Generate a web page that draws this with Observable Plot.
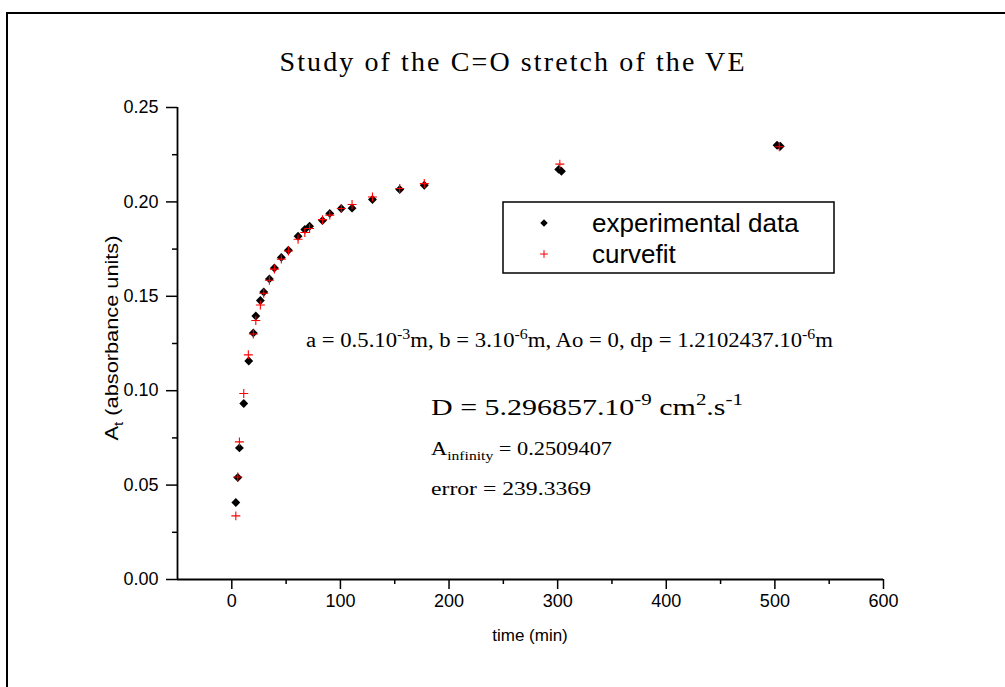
<!DOCTYPE html>
<html><head><meta charset="utf-8">
<script src="https://cdn.jsdelivr.net/npm/d3@7"></script>
<script src="https://cdn.jsdelivr.net/npm/@observablehq/plot@0.6"></script>
<style>
html,body{margin:0;padding:0;background:#fff;overflow:hidden;}
#wrap{position:relative;width:1005px;height:687px;overflow:hidden;}
#frame{position:absolute;left:6px;top:12px;width:1100px;height:800px;border:2px solid #000;box-sizing:border-box;}
#chart{position:absolute;left:0;top:0;}
</style></head><body>
<div id="wrap"><div id="frame"></div><div id="chart"></div></div>
<script>
// experimental data (time in min, absorbance)
const timeExp = [3.7, 5.5, 7.0, 11.0, 15.6, 19.8, 22.1, 26.3, 29.4, 34.6, 39.2, 45.6, 52.1, 61.0, 67.2, 71.6, 83.5, 90.2, 100.8, 110.7, 129.5, 154.6, 177.2, 301.0, 303.5, 502.0, 505.0];
const absExp  = [0.0408, 0.0540, 0.0697, 0.0932, 0.1157, 0.1306, 0.1396, 0.1478, 0.1523, 0.1592, 0.1650, 0.1706, 0.1744, 0.1818, 0.1854, 0.1871, 0.1901, 0.1939, 0.1965, 0.1967, 0.2013, 0.2066, 0.2088, 0.2172, 0.2162, 0.2300, 0.2295];
// curve fit values
const timeFit = [3.7, 5.5, 7.0, 11.0, 15.2, 19.8, 22.1, 26.3, 29.4, 34.6, 39.2, 45.6, 52.1, 61.0, 67.2, 71.6, 83.5, 90.2, 100.8, 110.7, 129.5, 154.6, 177.2, 302.0, 504.0];
const absFit  = [0.0337, 0.0543, 0.0729, 0.0985, 0.1190, 0.1300, 0.1372, 0.1454, 0.1516, 0.1585, 0.1644, 0.1697, 0.1740, 0.1802, 0.1838, 0.1859, 0.1906, 0.1930, 0.1965, 0.1986, 0.2026, 0.2071, 0.2097, 0.2200, 0.2292];

const xTicks = [0, 100, 200, 300, 400, 500, 600];
const xMinor = [50, 150, 250, 350, 450, 550];
const yTicks = [0, 0.05, 0.10, 0.15, 0.20, 0.25];
const yMinor = [0.025, 0.075, 0.125, 0.175, 0.225];

const seriesNames = ["experimental data", "curvefit"];

const W = 1005, H = 687;
const exp = timeExp.map((t, i) => ({t, a: absExp[i]}));
const fit = timeFit.map((t, i) => ({t, a: absFit[i]}));
const sans = "'Liberation Sans', Arial, sans-serif";
const serif = "'Liberation Serif', 'Times New Roman', serif";

const plot = Plot.plot({
  width: W, height: H,
  marginLeft: 177, marginRight: 122, marginTop: 107, marginBottom: 108,
  x: {domain: [-50, 600]},
  y: {domain: [0, 0.25]},
  style: {fontFamily: sans, fontSize: "18px", background: "transparent", color: "#000", overflow: "visible"},
  marks: [
    Plot.axisX({ticks: xTicks, tickSize: 10, tickPadding: 5, tickFormat: d => String(d), label: null, strokeWidth: 1.5, fontSize: 18, fill: "#000"}),
    Plot.axisX({ticks: xMinor, tickSize: 5, tickFormat: () => "", label: null, strokeWidth: 1.5}),
    Plot.axisY({ticks: yTicks, tickSize: 11, tickPadding: 8, tickFormat: d3.format(".2f"), label: null, strokeWidth: 1.5, fontSize: 18, fill: "#000"}),
    Plot.axisY({ticks: yMinor, tickSize: 5, tickFormat: () => "", label: null, strokeWidth: 1.5}),
    Plot.ruleY([0], {stroke: "#000", strokeWidth: 1.8}),
    Plot.ruleX([-50], {stroke: "#000", strokeWidth: 1.8}),
    Plot.dot(exp, {x: "t", y: "a", symbol: "diamond2", r: 4, fill: "#000", stroke: "none"}),
    Plot.dot(fit, {x: "t", y: "a", symbol: "plus", r: 3, stroke: "#ff0000", strokeWidth: 1.1})
  ]
});
document.getElementById("chart").appendChild(plot);

const svg = d3.select(plot);

function addText(x, y, parts, o = {}) {
  const size = o.size || 16;
  const t = svg.append("text")
    .attr("x", x).attr("y", y)
    .attr("font-family", o.family || serif)
    .attr("font-size", size)
    .attr("fill", "#000")
    .attr("text-anchor", o.anchor || "start");
  if (o.rotate) t.attr("transform", `rotate(${o.rotate},${x},${y})`);
  if (o.length) t.attr("textLength", o.length).attr("lengthAdjust", o.adjust || "spacingAndGlyphs");
  let shift = 0;
  for (const [str, kind] of parts) {
    const target = kind === 1 ? -0.42 * size : kind === -1 ? 0.28 * size : 0;
    t.append("tspan").text(str)
      .attr("dy", target - shift)
      .attr("font-size", kind ? size * 0.7 : size);
    shift = target;
  }
  return t;
}

// title
addText(512, 71, [["Study of the C=O stretch of the VE", 0]], {size: 28, anchor: "middle", length: 465, adjust: "spacing"});

// axis labels
addText(530, 641, [["time (min)", 0]], {size: 17, family: sans, anchor: "middle"});
addText(118, 338, [["A", 0], ["t", -1], [" (absorbance units)", 0]], {size: 19, family: sans, anchor: "middle", rotate: -90, length: 205});

// annotations
addText(306, 347, [["a = 0.5.10", 0], ["-3", 1], ["m, b = 3.10", 0], ["-6", 1], ["m, Ao = 0, dp = 1.2102437.10", 0], ["-6", 1], ["m", 0]], {size: 20, length: 527});
addText(431, 415, [["D = 5.296857.10", 0], ["-9", 1], [" cm", 0], ["2", 1], [".s", 0], ["-1", 1]], {size: 24, length: 312});
addText(431, 455, [["A", 0], ["infinity", -1], [" = 0.2509407", 0]], {size: 19, length: 181});
addText(431, 495, [["error = 239.3369", 0]], {size: 19, length: 160});

// legend
const lg = svg.append("g");
lg.append("rect").attr("x", 503).attr("y", 202).attr("width", 331).attr("height", 71)
  .attr("fill", "#fff").attr("stroke", "#000").attr("stroke-width", 1.5);
lg.append("path").attr("d", d3.symbol(d3.symbolDiamond2, 36)()).attr("transform", "translate(544,223)").attr("fill", "#000");
lg.append("path").attr("d", d3.symbol(d3.symbolPlus, 22)()).attr("transform", "translate(544,254)").attr("fill", "none").attr("stroke", "#ff0000").attr("stroke-width", 1);
addText(592, 232, [[seriesNames[0], 0]], {size: 26, family: sans});
addText(592, 263, [[seriesNames[1], 0]], {size: 26, family: sans});
</script>
</body></html>
